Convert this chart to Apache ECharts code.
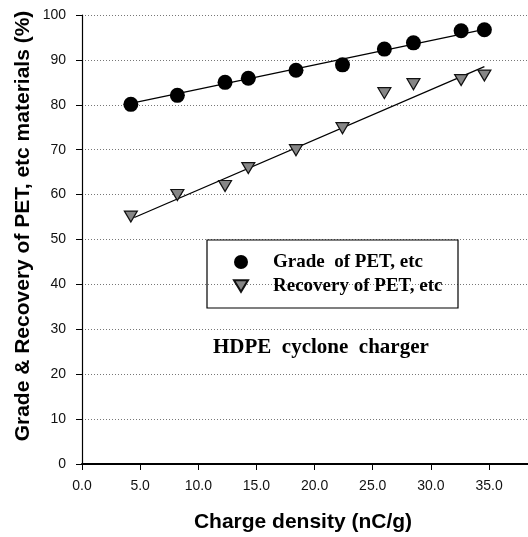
<!DOCTYPE html>
<html>
<head>
<meta charset="utf-8">
<script src="https://cdn.jsdelivr.net/npm/echarts@6/dist/echarts.min.js"></script>
<style>html,body{margin:0;padding:0;background:#fff}#c{width:528px;height:537px}</style>
</head>
<body>
<div id="c"></div>
<script>
// Data
var chargeDensity = [4.2, 8.2, 12.3, 14.3, 18.4, 22.4, 26.0, 28.5, 32.6, 34.6];
var gradePET = [80.1, 82.1, 85.0, 85.9, 87.7, 88.9, 92.4, 93.8, 96.5, 96.7];
var recoveryPET = [55.1, 59.9, 61.9, 65.9, 69.9, 74.8, 82.6, 84.6, 85.5, 86.5];
// Trend line end points (as drawn in the reference)
var gradeTrendX = [4.2, 34.8];
var gradeTrendY = [80.3, 96.9];
var recoveryTrendX = [4.5, 34.6];
var recoveryTrendY = [54.9, 88.5];
var seriesNames = ['Grade  of PET, etc', 'Recovery of PET, etc'];
var xTitle = 'Charge density (nC/g)';
var yTitle = 'Grade & Recovery of PET, etc materials (%)';
var note = 'HDPE  cyclone  charger';
var xMax = 38.35; // visible part of the x axis (the plot is cut at the right edge)

function pairs(xs, ys) { return xs.map(function (x, i) { return [x, ys[i]]; }); }

var triPath = 'path://M0,0L12,0L6,10Z';
var chart = echarts.init(document.getElementById('c'), null, {renderer: 'canvas'});
chart.setOption({
  animation: false,
  grid: {left: 82, top: 15, right: 0, bottom: 73, containLabel: false},
  xAxis: [{
    type: 'value', min: 0, max: xMax, interval: 5,
    axisLine: {show: true, onZero: false, lineStyle: {color: '#000', width: 1.2}},
    axisTick: {show: true, inside: false, length: 6, lineStyle: {color: '#000'}},
    axisLabel: {margin: 15, color: '#111', fontFamily: 'Liberation Sans', fontSize: 14,
      showMaxLabel: false,
      formatter: function (v) { return (Math.abs(v % 5) < 1e-6) ? v.toFixed(1) : ''; }},
    splitLine: {show: false}
  }, {
    type: 'value', position: 'top', min: 0, max: xMax,
    axisLine: {show: true, lineStyle: {color: '#000', width: 2}},
    axisTick: {show: false}, axisLabel: {show: false}, splitLine: {show: false}
  }],
  yAxis: {
    type: 'value', min: 0, max: 100, interval: 10,
    axisLine: {show: true, lineStyle: {color: '#000', width: 1.2}},
    axisTick: {show: true, inside: false, length: 6, lineStyle: {color: '#000'}},
    axisLabel: {margin: 16, color: '#111', fontFamily: 'Liberation Sans', fontSize: 14},
    splitLine: {show: true, lineStyle: {color: '#777', width: 1, type: [1, 2]}}
  },
  legend: {
    data: [{name: seriesNames[0], icon: 'circle'}, {name: seriesNames[1], icon: triPath}],
    orient: 'vertical', left: 233, top: 252, padding: 0, itemGap: 4,
    itemWidth: 14, itemHeight: 14,
    textStyle: {fontFamily: 'Liberation Serif', fontWeight: 'bold', fontSize: 19, color: '#000',
      lineHeight: 20, padding: [0, 0, 0, 20]}
  },
  graphic: [
    {type: 'rect', shape: {x: 207, y: 240, width: 251, height: 68},
      style: {fill: 'none', stroke: '#000', lineWidth: 1.2}, z: 100},
    {type: 'text', x: 213, y: 348, z: 100,
      style: {text: note, font: 'bold 21px "Liberation Serif"', fill: '#000',
        textAlign: 'left', textVerticalAlign: 'middle'}},
    {type: 'text', x: 303, y: 522, z: 100,
      style: {text: xTitle, font: 'bold 21px "Liberation Sans"', fill: '#000',
        textAlign: 'center', textVerticalAlign: 'middle'}},
    {type: 'text', x: 23, y: 226, rotation: Math.PI / 2, z: 100,
      style: {text: yTitle, font: 'bold 21px "Liberation Sans"', fill: '#000',
        textAlign: 'center', textVerticalAlign: 'middle'}}
  ],
  series: [
    {type: 'line', data: pairs(gradeTrendX, gradeTrendY), showSymbol: false, symbol: 'none',
      lineStyle: {color: '#000', width: 1.3}, z: 2, silent: true},
    {type: 'line', data: pairs(recoveryTrendX, recoveryTrendY), showSymbol: false, symbol: 'none',
      lineStyle: {color: '#000', width: 1.3}, z: 2, silent: true},
    {name: seriesNames[0], type: 'scatter', data: pairs(chargeDensity, gradePET),
      symbol: 'circle', symbolSize: 15, itemStyle: {color: '#000', opacity: 1}, z: 3},
    {name: seriesNames[1], type: 'scatter', data: pairs(chargeDensity, recoveryPET),
      symbol: triPath, symbolSize: [13, 11], symbolKeepAspect: false,
      itemStyle: {color: '#868686', borderColor: '#111', borderWidth: 1.2, opacity: 1}, z: 3}
  ]
});
</script>
</body>
</html>
